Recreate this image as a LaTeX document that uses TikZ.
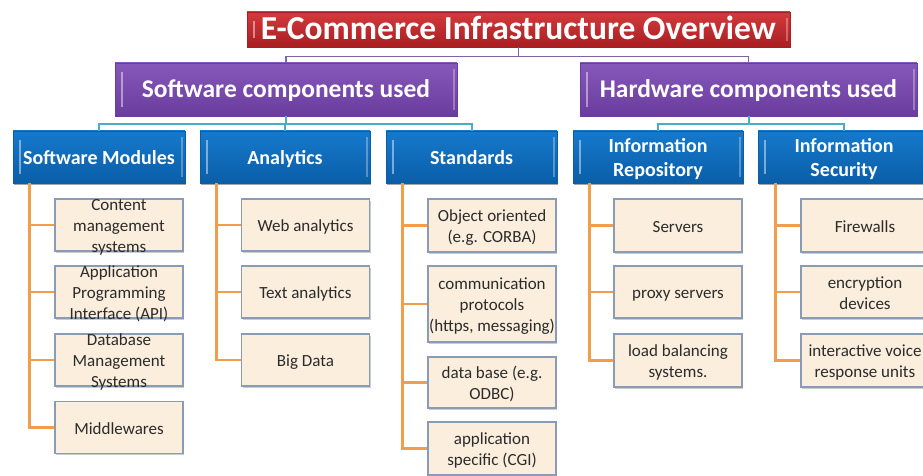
\documentclass[tikz,border=0pt]{standalone}
\usepackage{fontspec}
\setmainfont{Carlito}
\usetikzlibrary{shadows}
\definecolor{tredl}{HTML}{D43A3C}
\definecolor{tredd}{HTML}{A81E22}
\definecolor{purl}{HTML}{8658BA}
\definecolor{purd}{HTML}{6A3C9E}
\definecolor{blul}{HTML}{1679CC}
\definecolor{blud}{HTML}{0A5EA8}
\definecolor{beige}{HTML}{FBEEDD}
\definecolor{bbord}{HTML}{8A9BB5}
\definecolor{oline}{HTML}{F29D4B}
\definecolor{tline}{HTML}{4BACC6}
\definecolor{pline}{HTML}{8064A2}
\definecolor{ctxt}{HTML}{2B2B2B}
\newcommand\ctext[1]{\raisebox{0pt}[0pt][0pt]{\raisebox{\dimexpr(\depth-\height)/2-2.6pt\relax}{\begin{tabular}[b]{@{}c@{}}#1\end{tabular}}}}
\begin{document}
\begin{tikzpicture}[x=1pt,y=-1pt,
  bevel/.style={path picture={
    \draw[white,opacity=.45,line width=1.6pt] ([xshift=7pt,yshift=-9pt]path picture bounding box.north west) -- ([xshift=7pt,yshift=9pt]path picture bounding box.south west);
    \draw[white,opacity=.3,line width=2pt] ([xshift=-3pt,yshift=-6pt]path picture bounding box.north east) -- ([xshift=-3pt,yshift=6pt]path picture bounding box.south east);}},
  titlebox/.style={minimum width=543pt, minimum height=35pt, inner sep=0pt, top color=tredl, bottom color=tredd, draw=tredd, line width=0.8pt, text=white, font=\fontsize{33.5}{36}\selectfont\bfseries, bevel, drop shadow={shadow xshift=1pt, shadow yshift=-1.5pt, opacity=.35, fill=black}},
  purbox/.style={minimum height=53pt, inner sep=0pt, top color=purl, bottom color=purd, draw=purd, line width=0.8pt, text=white, font=\fontsize{25.5}{28}\selectfont\bfseries, bevel, drop shadow={shadow xshift=1pt, shadow yshift=-1.5pt, opacity=.35, fill=black}},
  blubox/.style={minimum height=52pt, inner sep=0pt, top color=blul, bottom color=blud, draw=blud, line width=0.8pt, text=white, font=\fontsize{20}{24}\selectfont\bfseries, bevel, drop shadow={shadow xshift=1pt, shadow yshift=-1.5pt, opacity=.35, fill=black}},
  childbox/.style={minimum width=128pt, minimum height=52pt, inner sep=0pt, fill=beige, draw=bbord, line width=1.3pt, text=ctxt, font=\fontsize{17}{20.8}\selectfont, drop shadow={shadow xshift=1.2pt, shadow yshift=-1.8pt, opacity=.4, fill=gray}},
  ol/.style={draw=oline, line width=2.4pt},
  tl/.style={draw=tline, line width=2pt},
  pl/.style={draw=pline, line width=1.6pt}]
\useasboundingbox (0,0) rectangle (923,476);
\clip (0,0) rectangle (923,476);
\fill[white] (0,0) rectangle (923,476);

% top levels
\node[titlebox] (title) at (518.5,29.5) {\ctext{E-Commerce Infrastructure Overview}};
\node[purbox, minimum width=342pt] (sw) at (286,89.5) {\ctext{Software components used}};
\node[purbox, minimum width=337pt] (hw) at (748.5,89.5) {\ctext{Hardware components used}};

% categories
\node[blubox, minimum width=172pt] (sm) at (99,157) {\ctext{Software Modules}};
\node[blubox, minimum width=170pt] (an) at (285,157) {\ctext{Analytics}};
\node[blubox, minimum width=171pt] (st) at (471.5,157) {\ctext{Standards}};
\node[blubox, minimum width=170pt] (ir) at (658,157) {\ctext{Information\\Repository}};
\node[blubox, minimum width=172pt] (is) at (844,157) {\ctext{Information\\Security}};

% software modules
\node[childbox] (sm1) at (119,225) {\ctext{Content\\management\\systems}};
\node[childbox] (sm2) at (119,292) {\ctext{Application\\Programming\\Interface (API)}};
\node[childbox] (sm3) at (119,360) {\ctext{Database\\Management\\Systems}};
\node[childbox] (sm4) at (119,427.5) {\ctext{Middlewares}};

% analytics
\node[childbox] (an1) at (305.5,225) {\ctext{Web analytics}};
\node[childbox] (an2) at (305.5,292) {\ctext{Text analytics}};
\node[childbox] (an3) at (305.5,360) {\ctext{Big Data}};

% standards
\node[childbox, minimum height=53pt] (st1) at (492,225.5) {\ctext{Object oriented\\(e.g. CORBA)}};
\node[childbox, minimum height=76pt] (st2) at (492,304) {\ctext{communication\\protocols\\(https, messaging)}};
\node[childbox, minimum height=51pt] (st3) at (492,382.5) {\ctext{data base (e.g.\\ODBC)}};
\node[childbox, minimum height=53pt] (st4) at (492,448.5) {\ctext{application\\specific (CGI)}};

% information repository
\node[childbox, minimum height=53pt] (ir1) at (678,225.5) {\ctext{Servers}};
\node[childbox] (ir2) at (678,292) {\ctext{proxy servers}};
\node[childbox, minimum height=53pt] (ir3) at (678,360.5) {\ctext{load balancing\\systems.}};

% information security
\node[childbox, minimum height=53pt] (is1) at (865,225.5) {\ctext{Firewalls}};
\node[childbox] (is2) at (865,292) {\ctext{encryption\\devices}};
\node[childbox, minimum height=53pt] (is3) at (865,360.5) {\ctext{interactive voice\\response units}};

% connectors title -> components
\draw[pl] (title.south) -- ++(0,9) -| (sw.north);
\draw[pl] (title.south) -- ++(0,9) -| (hw.north);

% connectors components -> categories
\draw[tl] (sw.south) -- ++(0,8) -| (sm.north);
\draw[tl] (sw.south) -- ++(0,8) -| (an.north);
\draw[tl] (sw.south) -- ++(0,8) -| (st.north);
\draw[tl] (hw.south) -- ++(0,8) -| (ir.north);
\draw[tl] (hw.south) -- ++(0,8) -| (is.north);

% connectors categories -> items
\foreach \c/\n in {sm/1,sm/2,sm/3,sm/4,an/1,an/2,an/3,st/1,st/2,st/3,st/4,ir/1,ir/2,ir/3}
  \draw[ol] ([xshift=17pt]\c.south west) |- (\c\n.west);
\foreach \n in {1,2,3}
  \draw[ol] ([xshift=18pt]is.south west) |- (is\n.west);
\end{tikzpicture}
\end{document}
